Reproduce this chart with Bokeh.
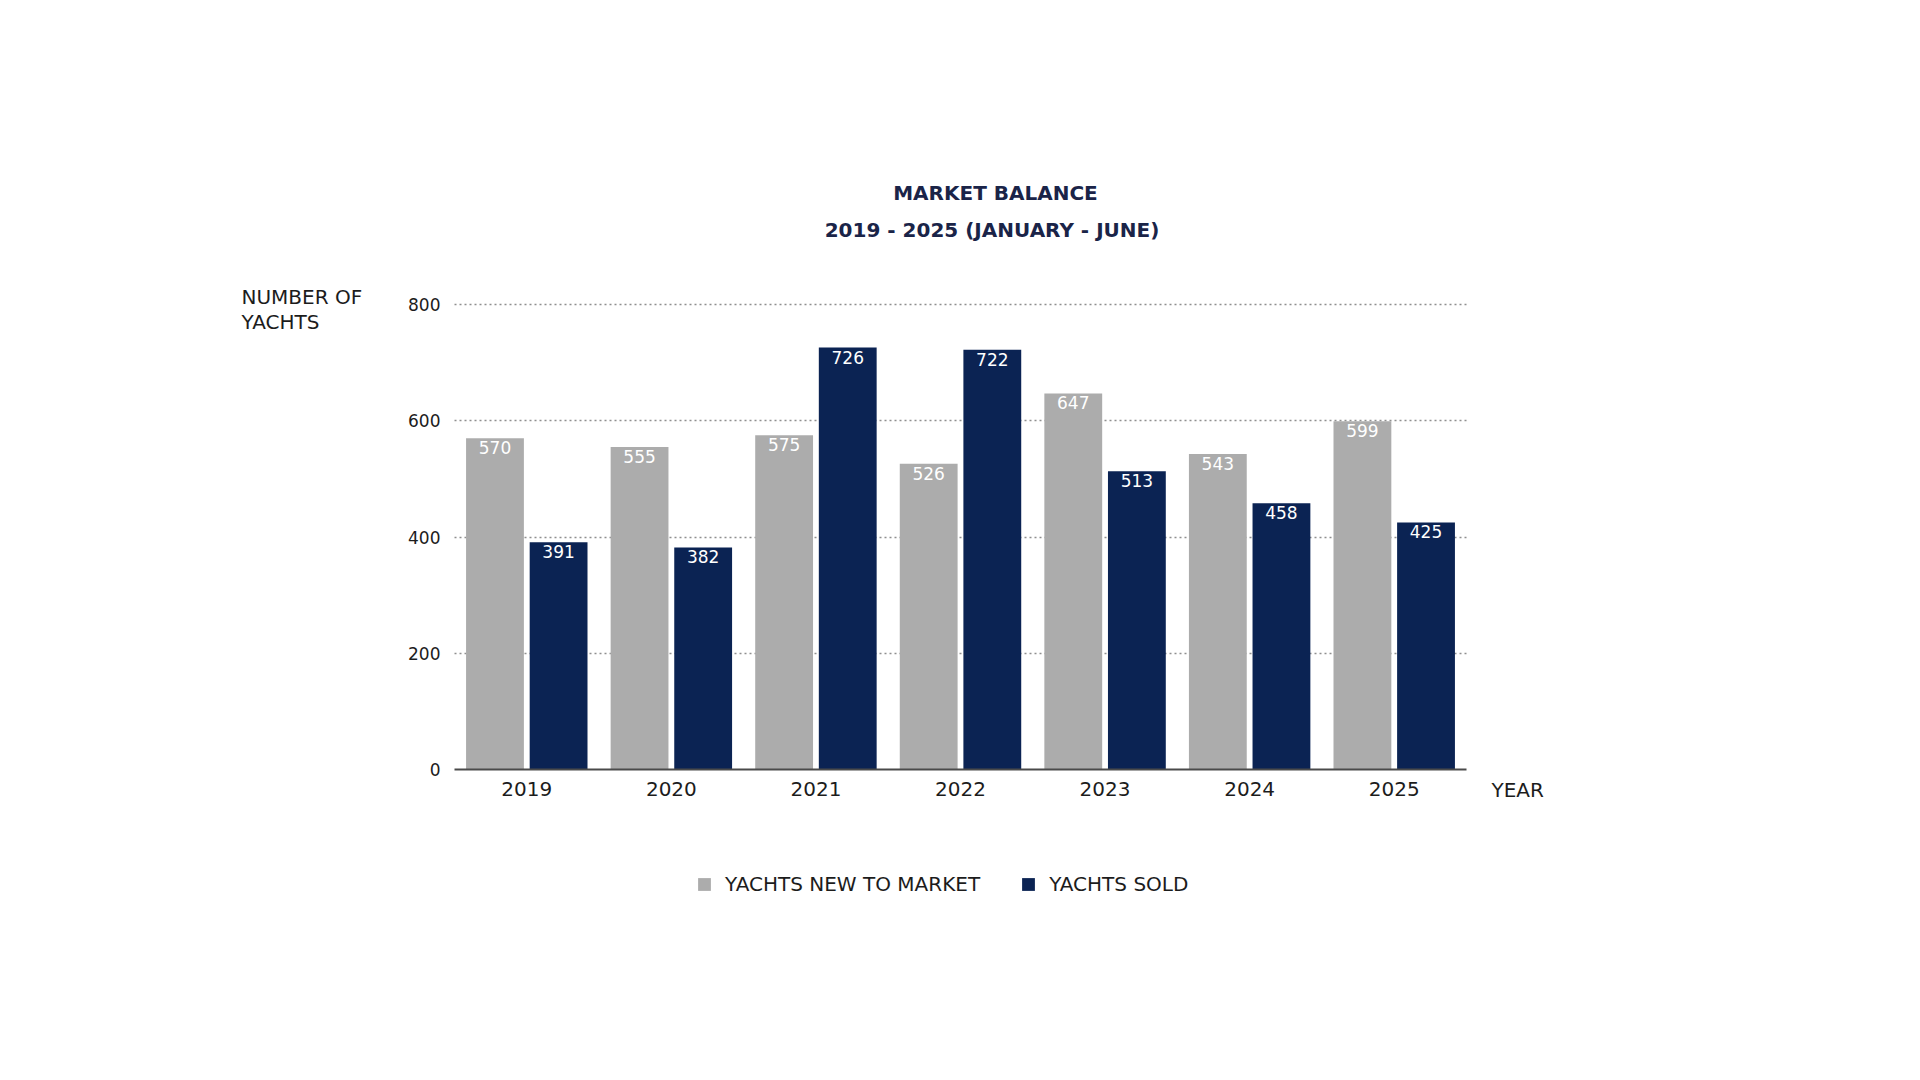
from bokeh.plotting import figure
from bokeh.models import (ColumnDataSource, FactorRange, Range1d, Label, Legend,
                          LegendItem, FixedTicker)
from bokeh.transform import dodge
from bokeh.core.properties import value
from bokeh.embed import file_html
from bokeh.resources import INLINE

# ---- data ----
years = ["2019", "2020", "2021", "2022", "2023", "2024", "2025"]
new_to_market = [570, 555, 575, 526, 647, 543, 599]
yachts_sold = [391, 382, 726, 722, 513, 458, 425]
y_ticks = [0, 200, 400, 600, 800]
title_lines = ["MARKET BALANCE", "2019 - 2025  (JANUARY - JUNE)"]
y_axis_lines = ["NUMBER OF", "YACHTS"]
x_axis_label = "YEAR"
series_names = ["YACHTS NEW TO MARKET", "YACHTS SOLD"]

# ---- styles / layout ----
FONT = "DejaVu Sans"
GRAY = "#acacac"
NAVY = "#0b2353"
TEXT = "#1c1c1c"
TITLE_C = "#1a2448"

W, H = 1920, 1078
CHART_L, CHART_R = 454, 1466      # pixel extent of the category band
Y0_PX, YMAX_PX = 769, 304         # pixel rows of 0 and of the top tick
n = len(years)
cw = (CHART_R - CHART_L) / n      # px per category
ymax = y_ticks[-1]
upp = ymax / (Y0_PX - YMAX_PX)    # data units per px
pad_side = CHART_L / cw           # padding (in category units) on each side


def dx(px):
    return (px - CHART_L) / cw


def dy(py):
    return (Y0_PX - py) * upp


src = ColumnDataSource(dict(
    year=years,
    new=new_to_market,
    sold=yachts_sold,
    new_lbl=[str(v) for v in new_to_market],
    sold_lbl=[str(v) for v in yachts_sold],
))

p = figure(width=W, height=H,
           x_range=FactorRange(factors=years, range_padding=pad_side,
                               range_padding_units="absolute"),
           y_range=Range1d(-(H - Y0_PX) * upp, ymax + YMAX_PX * upp),
           output_backend="svg", toolbar_location=None,
           min_border=0, min_border_left=0, min_border_right=0,
           min_border_top=0, min_border_bottom=0)
p.outline_line_color = None
p.background_fill_color = "white"
p.border_fill_color = "white"

# grid
p.xgrid.grid_line_color = None
yg = p.ygrid[0]
yg.ticker = FixedTicker(ticks=[t for t in y_ticks if t > 0])
yg.grid_line_color = "#8f8f8f"
yg.grid_line_dash = "2 3"
yg.grid_line_width = 1.3
if "cross_bounds" in yg.properties():
    yg.cross_bounds = (0, n)

# axes (drawn inside the frame at fixed locations)
ya = p.yaxis[0]
ya.fixed_location = 0
ya.ticker = FixedTicker(ticks=y_ticks)
ya.axis_line_color = None
ya.major_tick_line_color = None
ya.minor_tick_line_color = None
ya.major_label_text_font = FONT
ya.major_label_text_font_size = "17px"
ya.major_label_text_color = TEXT
ya.major_label_standoff = 8

xa = p.xaxis[0]
xa.fixed_location = 0
xa.bounds = (0, n)
xa.axis_line_color = "#4a4a4a"
xa.axis_line_width = 2
xa.major_tick_line_color = None
xa.minor_tick_line_color = None
xa.major_label_text_font = FONT
xa.major_label_text_font_size = "20px"
xa.major_label_text_color = TEXT
xa.major_label_standoff = 6

# bars
r1 = p.vbar(x=dodge("year", -0.22, range=p.x_range), top="new", width=0.40,
            source=src, fill_color=GRAY, line_color=None)
r2 = p.vbar(x=dodge("year", 0.22, range=p.x_range), top="sold", width=0.40,
            source=src, fill_color=NAVY, line_color=None)

# value labels
for col, top, off in (("new_lbl", "new", -0.22), ("sold_lbl", "sold", 0.22)):
    p.text(x=dodge("year", off, range=p.x_range), y=top,
           text=col, source=src, text_align="center", text_baseline="top",
           y_offset=3, text_color="white", text_font=value(FONT),
           text_font_size=value("17px"))

# title and axis labels
for i, (t, py) in enumerate(zip(title_lines, (192, 229))):
    p.add_layout(Label(x=dx(995), y=dy(py), text=t, text_align="center",
                       text_baseline="middle", text_font=FONT,
                       text_font_size="20px", text_font_style="bold",
                       text_color=TITLE_C))
for t, py in zip(y_axis_lines, (296, 321)):
    p.add_layout(Label(x=dx(241), y=dy(py), text=t, text_align="left",
                       text_baseline="middle", text_font=FONT,
                       text_font_size="20px", text_color=TEXT))
p.add_layout(Label(x=dx(1491), y=dy(789), text=x_axis_label, text_align="left",
                   text_baseline="middle", text_font=FONT,
                   text_font_size="20px", text_color=TEXT))

legend = Legend(items=[LegendItem(label=series_names[0], renderers=[r1]),
                       LegendItem(label=series_names[1], renderers=[r2])],
                location=(696, H - 896), orientation="horizontal",
                glyph_width=16, glyph_height=16, label_standoff=13, spacing=40,
                padding=0, margin=0, border_line_color=None,
                background_fill_alpha=0, label_text_font=FONT,
                label_text_font_size="20px", label_text_color=TEXT,
                label_height=16)
p.add_layout(legend)

open("out.html", "w").write(file_html(p, INLINE))
